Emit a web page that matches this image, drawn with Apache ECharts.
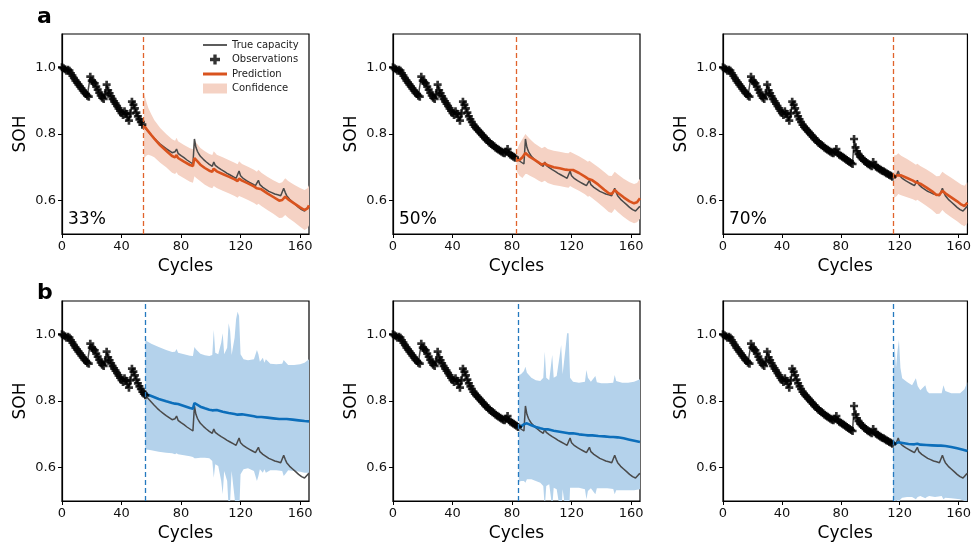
<!DOCTYPE html>
<html><head><meta charset="utf-8">
<script src="https://cdn.jsdelivr.net/npm/echarts@6/dist/echarts.min.js"></script>
<style>html,body{margin:0;padding:0;background:#fff}#c{width:974px;height:545px}</style>
</head><body><div id="c"></div>
<script>
// ---------- DATA ----------
const trueCap = [
1.000,0.997,0.994,0.990,0.993,0.990,0.982,0.975,0.968,0.961,
0.955,0.949,0.943,0.937,0.931,0.925,0.920,0.915,0.912,0.972,
0.960,0.956,0.952,0.942,0.933,0.924,0.916,0.909,0.905,0.918,
0.948,0.931,0.922,0.913,0.905,0.898,0.891,0.884,0.877,0.870,
0.863,0.857,0.868,0.861,0.851,0.840,0.862,0.897,0.888,0.877,
0.864,0.853,0.844,0.836,0.828,0.822,0.817,0.812,0.807,0.802,
0.797,0.792,0.787,0.782,0.778,0.774,0.770,0.766,0.763,0.759,
0.756,0.753,0.750,0.747,0.744,0.742,0.747,0.755,0.742,0.738,
0.735,0.732,0.729,0.726,0.722,0.719,0.716,0.713,0.710,0.785,
0.760,0.748,0.740,0.733,0.728,0.724,0.720,0.716,0.712,0.709,
0.706,0.703,0.716,0.706,0.702,0.699,0.696,0.693,0.690,0.688,
0.685,0.682,0.680,0.677,0.675,0.672,0.670,0.667,0.668,0.689,
0.675,0.670,0.666,0.663,0.660,0.657,0.655,0.652,0.650,0.647,
0.645,0.643,0.661,0.648,0.643,0.640,0.637,0.634,0.631,0.628,
0.626,0.624,0.622,0.620,0.619,0.618,0.616,0.615,0.616,0.637,
0.625,0.615,0.609,0.604,0.600,0.596,0.592,0.588,0.584,0.580,
0.577,0.573,0.570,0.569,0.574,0.579,0.583];
const xTicks = [0,40,80,120,160];
const yTicks = [0.6,0.8,1.0];
const splitsA = [54.5, 82.5, 115.5];
const splitsB = [56, 84.5, 115.5];
const pctLabels = ['33%','50%','70%'];

const predA1 = [[55,0.826],[56,0.820],[57,0.814],[58,0.808],[60,0.797],[62,0.786],[66,0.766],[70,0.750],[74,0.734],[76,0.730],[77,0.737],[78,0.728],[82,0.717],[86,0.707],[88,0.704],[89,0.728],[90,0.722],[93,0.708],[96,0.698],[99,0.690],[101,0.687],[102,0.696],[104,0.688],[108,0.680],[112,0.672],[116,0.664],[118,0.659],[119,0.666],[121,0.660],[125,0.652],[129,0.643],[131,0.637],[132,0.642],[134,0.634],[138,0.622],[142,0.611],[146,0.600],[148,0.602],[150,0.612],[152,0.604],[156,0.592],[160,0.580],[163,0.572],[165,0.577],[166,0.586]];
const bandA1 = [[55,0.926,0.726],[56,0.908,0.732],[57,0.892,0.736],[58,0.878,0.738],[60,0.859,0.735],[62,0.842,0.730],[66,0.818,0.714],[70,0.800,0.700],[74,0.784,0.684],[76,0.780,0.680],[77,0.789,0.685],[78,0.778,0.678],[82,0.767,0.667],[86,0.757,0.657],[88,0.754,0.654],[89,0.783,0.673],[90,0.775,0.669],[93,0.758,0.658],[96,0.748,0.648],[99,0.740,0.640],[101,0.737,0.637],[102,0.748,0.644],[104,0.738,0.638],[108,0.730,0.630],[112,0.722,0.622],[116,0.714,0.614],[118,0.709,0.609],[119,0.718,0.614],[121,0.710,0.610],[125,0.702,0.602],[129,0.693,0.593],[131,0.687,0.587],[132,0.693,0.591],[134,0.684,0.584],[138,0.672,0.572],[142,0.661,0.561],[146,0.652,0.548],[148,0.655,0.549],[150,0.667,0.557],[152,0.659,0.549],[156,0.648,0.536],[160,0.638,0.522],[163,0.632,0.512],[165,0.637,0.517],[166,0.646,0.526]];

const predA2 = [[83,0.721],[85,0.722],[87,0.730],[89,0.743],[90,0.740],[92,0.731],[95,0.723],[98,0.714],[100,0.708],[102,0.712],[104,0.706],[108,0.700],[112,0.697],[116,0.693],[118,0.692],[119,0.697],[121,0.692],[125,0.683],[129,0.672],[131,0.666],[132,0.668],[134,0.661],[138,0.648],[142,0.633],[145,0.622],[147,0.620],[149,0.632],[151,0.624],[155,0.610],[159,0.598],[162,0.592],[164,0.595],[166,0.607]];
const bandA2 = [[83,0.750,0.690],[85,0.770,0.675],[87,0.785,0.668],[89,0.800,0.680],[90,0.795,0.680],[92,0.785,0.675],[95,0.772,0.668],[98,0.763,0.660],[100,0.757,0.655],[102,0.762,0.660],[104,0.755,0.653],[108,0.750,0.647],[112,0.747,0.644],[116,0.743,0.640],[118,0.742,0.639],[119,0.747,0.644],[121,0.742,0.639],[125,0.733,0.630],[129,0.723,0.619],[131,0.717,0.612],[132,0.720,0.614],[134,0.713,0.607],[138,0.700,0.593],[142,0.686,0.578],[145,0.675,0.566],[147,0.674,0.563],[149,0.687,0.575],[151,0.679,0.566],[155,0.666,0.551],[159,0.655,0.538],[162,0.650,0.532],[164,0.653,0.535],[166,0.666,0.546]];

const predA3 = [[116,0.669],[118,0.676],[119,0.681],[121,0.676],[125,0.668],[129,0.660],[131,0.655],[132,0.658],[134,0.651],[138,0.640],[142,0.628],[145,0.617],[147,0.618],[149,0.630],[151,0.622],[155,0.610],[159,0.598],[162,0.588],[164,0.584],[166,0.594]];
const bandA3 = [[116,0.735,0.608],[118,0.738,0.614],[119,0.742,0.620],[121,0.735,0.616],[125,0.725,0.610],[129,0.714,0.604],[131,0.708,0.600],[132,0.711,0.603],[134,0.704,0.597],[138,0.694,0.585],[142,0.683,0.572],[145,0.673,0.560],[147,0.674,0.561],[149,0.687,0.572],[151,0.680,0.563],[155,0.669,0.550],[159,0.657,0.538],[162,0.648,0.528],[164,0.645,0.523],[166,0.655,0.532]];

const predB1 = [[56,0.822],[60,0.815],[65,0.806],[70,0.799],[74,0.794],[76,0.792],[77,0.797],[78,0.791],[82,0.785],[86,0.779],[88,0.777],[89,0.794],[90,0.790],[93,0.783],[96,0.778],[99,0.774],[101,0.772],[102,0.778],[104,0.773],[108,0.768],[112,0.764],[116,0.761],[118,0.759],[119,0.764],[121,0.760],[125,0.757],[129,0.754],[131,0.752],[132,0.756],[134,0.752],[138,0.750],[142,0.748],[146,0.746],[148,0.746],[149,0.750],[151,0.746],[155,0.744],[159,0.742],[163,0.740],[166,0.739]];
const bandB1 = [[56,0.982,0.655],[60,0.972,0.652],[65,0.962,0.648],[70,0.953,0.645],[74,0.947,0.643],[76,0.948,0.640],[77,0.956,0.643],[78,0.945,0.640],[82,0.940,0.637],[86,0.936,0.634],[88,0.935,0.632],[89,0.962,0.628],[90,0.955,0.628],[93,0.942,0.630],[96,0.937,0.630],[99,0.935,0.628],[101,0.938,0.620],[102,1.013,0.570],[103,0.945,0.610],[105,0.940,0.605],[107,0.975,0.560],[108,1.003,0.520],[109,0.940,0.590],[111,0.960,0.560],[112,1.033,0.480],[113,1.010,0.500],[114,0.938,0.590],[116,0.990,0.510],[117,1.045,0.460],[118,1.068,0.440],[119,1.055,0.450],[120,0.940,0.580],[122,0.925,0.595],[125,0.922,0.598],[129,0.925,0.590],[131,0.953,0.560],[132,0.940,0.575],[133,0.918,0.595],[135,0.930,0.585],[136,0.915,0.595],[137,0.925,0.585],[140,0.912,0.592],[144,0.910,0.592],[148,0.912,0.590],[149,0.923,0.575],[150,0.918,0.580],[152,0.908,0.592],[156,0.908,0.590],[160,0.910,0.588],[163,0.915,0.585],[166,0.925,0.585]];

const predB2 = [[84.5,0.721],[86,0.724],[88,0.730],[89,0.735],[90,0.733],[93,0.727],[96,0.722],[99,0.718],[101,0.716],[102,0.719],[104,0.715],[108,0.711],[112,0.708],[116,0.705],[118,0.703],[119,0.707],[121,0.703],[125,0.700],[129,0.698],[131,0.697],[132,0.700],[134,0.697],[138,0.695],[142,0.694],[146,0.692],[148,0.692],[149,0.695],[151,0.691],[155,0.688],[159,0.684],[163,0.680],[166,0.677]];
const bandB2 = [[84.5,0.878,0.557],[86,0.880,0.560],[88,0.890,0.560],[89,0.903,0.555],[90,0.885,0.565],[93,0.870,0.565],[96,0.862,0.560],[99,0.860,0.555],[101,0.870,0.545],[102,0.948,0.480],[103,0.870,0.545],[105,0.862,0.550],[107,0.938,0.480],[108,0.870,0.540],[110,0.875,0.535],[112,0.935,0.480],[113,0.968,0.450],[114,0.880,0.535],[116,0.960,0.470],[117,1.003,0.420],[118,1.003,0.420],[119,0.870,0.540],[121,0.858,0.540],[125,0.855,0.540],[129,0.858,0.535],[130,0.893,0.505],[131,0.870,0.530],[133,0.858,0.538],[136,0.875,0.520],[137,0.856,0.538],[140,0.853,0.538],[144,0.853,0.538],[148,0.855,0.536],[149,0.878,0.520],[150,0.860,0.532],[154,0.855,0.532],[158,0.855,0.532],[162,0.858,0.532],[166,0.865,0.535]];

const predB3 = [[115.5,0.670],[117,0.672],[119,0.676],[120,0.677],[122,0.674],[126,0.671],[130,0.670],[132,0.672],[134,0.669],[138,0.668],[142,0.667],[146,0.666],[148,0.666],[149,0.668],[151,0.665],[155,0.662],[159,0.658],[163,0.654],[166,0.650]];
const bandB3 = [[115.5,0.860,0.505],[116.5,0.973,0.490],[117.5,0.900,0.505],[118.5,0.950,0.495],[119.5,0.983,0.490],[120.5,0.900,0.505],[121.7,0.868,0.510],[125,0.857,0.512],[128.4,0.847,0.512],[131,0.868,0.505],[132.2,0.845,0.512],[134,0.832,0.515],[137.4,0.847,0.508],[138.5,0.830,0.512],[140,0.823,0.515],[144,0.823,0.512],[148.5,0.823,0.515],[149.7,0.847,0.505],[151,0.830,0.510],[155,0.823,0.508],[161,0.823,0.505],[164,0.835,0.500],[166,0.857,0.495]];

// ---------- STYLE / LAYOUT ----------
const F = 'DejaVu Sans';
const ORANGE = '#D9531E', ORANGE_BAND = '#F5D2C4', ORANGE_DASH = '#E0632C';
const BLUE = '#0C6EBA', BLUE_BAND = '#B4D2EB', BLUE_DASH = '#2479BF';
const GREY = '#4a4a4a';
const lefts = [62, 393, 723], tops = [34, 301], W = 247, H = 200;
const XMAX = 166;

const panels = [
  {pred:predA1, band:bandA1, split:splitsA[0], c:ORANGE, bc:ORANGE_BAND, dc:ORANGE_DASH},
  {pred:predA2, band:bandA2, split:splitsA[1], c:ORANGE, bc:ORANGE_BAND, dc:ORANGE_DASH},
  {pred:predA3, band:bandA3, split:splitsA[2], c:ORANGE, bc:ORANGE_BAND, dc:ORANGE_DASH},
  {pred:predB1, band:bandB1, split:splitsB[0], c:BLUE, bc:BLUE_BAND, dc:BLUE_DASH},
  {pred:predB2, band:bandB2, split:splitsB[1], c:BLUE, bc:BLUE_BAND, dc:BLUE_DASH},
  {pred:predB3, band:bandB3, split:splitsB[2], c:BLUE, bc:BLUE_BAND, dc:BLUE_DASH}
];

const grids = [], xAxes = [], yAxes = [], series = [], graphics = [];
const trueData = trueCap.map((v,i)=>[i,v]);
const PLUS = 'path://M3,0h3v3h3v3h-3v3h-3v-3h-3v-3h3z';

panels.forEach((p, gi) => {
  const r = Math.floor(gi/3), c = gi%3;
  grids.push({left:lefts[c], top:tops[r], width:W, height:H, show:true, borderColor:'#000', borderWidth:1.2, backgroundColor:'transparent', containLabel:false});
  xAxes.push({gridIndex:gi, type:'value', min:0, max:XMAX,
    axisLine:{show:true, onZero:false, lineStyle:{color:'#000', width:1.2}},
    axisTick:{show:true, length:4, lineStyle:{color:'#000', width:1}, customValues:xTicks},
    axisLabel:{customValues:xTicks, fontSize:13, color:'#111', margin:6, fontFamily:F, formatter:v=>String(v)},
    splitLine:{show:false},
    name:'Cycles', nameLocation:'middle', nameGap:24, nameTextStyle:{fontSize:17, color:'#000', fontFamily:F}});
  yAxes.push({gridIndex:gi, type:'value', min:0.5, max:1.1,
    axisLine:{show:true, onZero:false, lineStyle:{color:'#000', width:1.2}},
    axisTick:{show:true, length:4, lineStyle:{color:'#000', width:1}, customValues:yTicks},
    axisLabel:{customValues:yTicks, fontSize:13, color:'#111', margin:6, fontFamily:F, formatter:v=>v.toFixed(1)},
    splitLine:{show:false},
    name:'SOH', nameLocation:'middle', nameGap:33, nameTextStyle:{fontSize:17, color:'#000', fontFamily:F}});

  const band = p.band;
  series.push({type:'custom', name:'Confidence', xAxisIndex:gi, yAxisIndex:gi, clip:true, silent:true, z:1,
    itemStyle:{color:p.bc},
    data:[[band[0][0], band[0][1]]],
    renderItem:(params, api)=>{
      const pts = [];
      for (const b of band) pts.push(api.coord([b[0], b[1]]));
      for (let i=band.length-1;i>=0;i--) pts.push(api.coord([band[i][0], band[i][2]]));
      const cs = params.coordSys;
      return {type:'polygon', shape:{points:pts}, style:{fill:p.bc},
        clipPath:{type:'rect', shape:{x:cs.x, y:cs.y, width:cs.width, height:cs.height}}};
    }});
  series.push({type:'line', name:'True capacity', xAxisIndex:gi, yAxisIndex:gi, data:trueData, showSymbol:false, symbol:'none',
    lineStyle:{color:GREY, width:1.5}, itemStyle:{color:GREY}, z:2, silent:true, animation:false});
  series.push({type:'line', name:'Prediction', xAxisIndex:gi, yAxisIndex:gi, data:p.pred, showSymbol:false, symbol:'none',
    lineStyle:{color:p.c, width:2.6}, itemStyle:{color:p.c}, z:3, silent:true, animation:false,
    markLine:{silent:true, symbol:['none','none'], label:{show:false}, animation:false,
      lineStyle:{color:p.dc, width:1.3, type:[5,3]}, data:[{xAxis:p.split}]}});
  const obs = trueData.filter(d=>d[0] <= p.split);
  series.push({type:'scatter', name:'Observations', xAxisIndex:gi, yAxisIndex:gi, data:obs, symbol:PLUS, symbolSize:8,
    itemStyle:{color:'#000'}, z:4, silent:true, animation:false});

  if (r === 0) {
    graphics.push({type:'text', left:lefts[c]+6, top:tops[r]+H-23, style:{text:pctLabels[c], font:'17px "DejaVu Sans"', fill:'#000'}});
  }
});

graphics.push({type:'text', left:37, top:6, style:{text:'a', font:'bold 22px "DejaVu Sans"', fill:'#000'}});
graphics.push({type:'text', left:37, top:282, style:{text:'b', font:'bold 22px "DejaVu Sans"', fill:'#000'}});

const chart = echarts.init(document.getElementById('c'), null, {renderer:'canvas'});
chart.setOption({
  animation:false,
  backgroundColor:'#fff',
  grid:grids, xAxis:xAxes, yAxis:yAxes, series:series, graphic:graphics,
  legend:{show:true, orient:'vertical', left:203, top:40, itemGap:4.5, itemWidth:24, itemHeight:10,
    selectedMode:false, padding:0,
    textStyle:{fontSize:10, color:'#222', fontFamily:F},
    data:[
      {name:'True capacity', icon:'path://M0,0H24V1.8H0Z', itemStyle:{color:GREY}},
      {name:'Observations', icon:PLUS, itemStyle:{color:'#000'}},
      {name:'Prediction', icon:'path://M0,0H24V3H0Z', itemStyle:{color:ORANGE}},
      {name:'Confidence', icon:'rect', itemStyle:{color:ORANGE_BAND}}
    ]}
});
</script></body></html>
